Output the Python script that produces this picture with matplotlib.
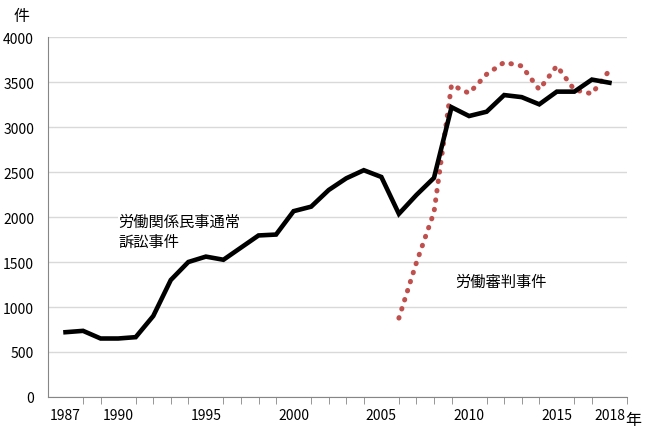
import matplotlib
matplotlib.use("Agg")
import matplotlib.pyplot as plt

plt.rcParams['font.family'] = ['Noto Sans CJK JP', 'DejaVu Sans']

years = list(range(1987, 2019))
civil_cases = [720, 735, 650, 650, 665, 900, 1300, 1500, 1560, 1525,
               1660, 1795, 1805, 2065, 2115, 2300, 2430, 2520, 2445, 2035,
               2245, 2435, 3220, 3122, 3170, 3355, 3332, 3252, 3393, 3393,
               3527, 3492]

tribunal_years = list(range(2006, 2019))
tribunal_cases = [877, 1494, 2052, 3468, 3375, 3586, 3719, 3678, 3416, 3679,
                  3414, 3369, 3630]

xtick_labels = [1987, 1990, 1995, 2000, 2005, 2010, 2015, 2018]

fig = plt.figure(figsize=(6.5, 4.39), dpi=100)
ax = fig.add_axes([0.0738, 0.0934, 0.8908, 0.82])

ax.plot(years, civil_cases, color="black", linewidth=3.3,
        solid_joinstyle="miter", zorder=3)
ax.plot(tribunal_years, tribunal_cases, color="#C0504D", linewidth=3.6,
        linestyle=(0, (0.1, 1.8)), dash_capstyle="round", zorder=2)

ax.set_xlim(1986, 2019)
ax.set_ylim(0, 4000)
ax.set_yticks(range(0, 4001, 500))
ax.yaxis.grid(True, color="#D9D9D9", linewidth=1)
ax.set_axisbelow(True)

ax.set_xticks(xtick_labels)
ax.set_xticks(range(1987, 2020), minor=True)
ax.tick_params(axis="x", which="major", length=0, pad=8, labelsize=10)
ax.tick_params(axis="x", which="minor", length=5, color="#868686", direction="out")
ax.tick_params(axis="y", length=0, pad=10, labelsize=10)

for side in ["top", "right"]:
    ax.spines[side].set_visible(False)
for side in ["left", "bottom"]:
    ax.spines[side].set_color("#868686")

fig.text(22 / 650, 1 - 17 / 439, "件", fontsize=11.5, ha="center", va="center")
fig.text(633 / 650, 1 - 421 / 439, "年", fontsize=11.5, ha="center", va="center")

# labels sit under the lines but cover the grid
ax.text(1990.0, 1839, "労働関係民事通常\n訴訟事件", fontsize=11, ha="left",
        va="center", linespacing=1.2, zorder=1,
        bbox=dict(facecolor="white", edgecolor="none", pad=0))
ax.text(2009.2, 1289, "労働審判事件", fontsize=11, ha="left", va="center")

fig.savefig("out.png", dpi=100)
